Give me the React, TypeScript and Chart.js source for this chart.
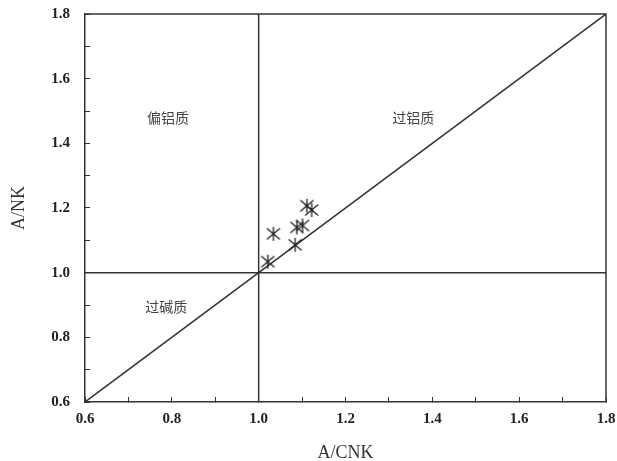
import React, { useEffect, useRef } from "react";
import { Chart, registerables } from "chart.js";

Chart.register(...registerables);

// Sample points (A/CNK, A/NK)
const sampleACNK = [1.021, 1.034, 1.084, 1.088, 1.101, 1.111, 1.122];
const sampleANK = [1.034, 1.120, 1.086, 1.140, 1.146, 1.207, 1.194];

// Reference lines
const diagonalX = [0.6, 1.8];
const diagonalY = [0.6, 1.8];
const verticalX = [1.0, 1.0];
const verticalY = [0.6, 1.8];
const horizontalX = [0.6, 1.8];
const horizontalY = [1.0, 1.0];

// Region labels
const regionNames = ["偏铝质", "过铝质", "过碱质"];
const regionX = [0.791, 1.356, 0.787];
const regionY = [1.479, 1.479, 0.894];

// Axis
const axisMin = 0.6;
const axisMax = 1.8;
const tickLabels = ["0.6", "0.8", "1.0", "1.2", "1.4", "1.6", "1.8"];

function makeMarker(): HTMLCanvasElement {
  const c = document.createElement("canvas");
  c.width = 16;
  c.height = 16;
  const ctx = c.getContext("2d")!;
  ctx.strokeStyle = "#222";
  ctx.lineWidth = 1.3;
  ctx.beginPath();
  ctx.moveTo(1.5, 2.5);
  ctx.lineTo(14.5, 13.5);
  ctx.moveTo(1.5, 13.5);
  ctx.lineTo(14.5, 2.5);
  ctx.moveTo(8, 1);
  ctx.lineTo(8, 15);
  ctx.stroke();
  return c;
}

const pairs = (xs: number[], ys: number[]) => xs.map((x, i) => ({ x, y: ys[i] }));

const tickCb = (v: any) => {
  const n = Math.round(Number(v) * 10);
  if (n % 2 !== 0) return "";
  const s = (n / 10).toFixed(1);
  return tickLabels.includes(s) ? s : "";
};

export default function App() {
  const ref = useRef<HTMLCanvasElement | null>(null);
  useEffect(() => {
    document.body.style.margin = "0";
    const marker = makeMarker();
    const framePlugin = {
      id: "frame",
      afterDraw(chart: any) {
        const { ctx, chartArea } = chart;
        ctx.save();
        ctx.strokeStyle = "#333";
        ctx.lineWidth = 1.5;
        ctx.beginPath();
        ctx.moveTo(chartArea.left, chartArea.top);
        ctx.lineTo(chartArea.right, chartArea.top);
        ctx.lineTo(chartArea.right, chartArea.bottom);
        ctx.stroke();
        ctx.restore();
      },
    };
    const labelPlugin = {
      id: "regionLabels",
      afterDatasetsDraw(chart: any) {
        const { ctx } = chart;
        const xs = chart.scales.x;
        const ys = chart.scales.y;
        ctx.save();
        ctx.fillStyle = "#444";
        ctx.font = '14px "Noto Sans CJK SC"';
        ctx.textAlign = "center";
        ctx.textBaseline = "middle";
        regionNames.forEach((t, i) => {
          ctx.fillText(t, xs.getPixelForValue(regionX[i]), ys.getPixelForValue(regionY[i]));
        });
        ctx.restore();
      },
    };
    const lineStyle = {
      showLine: true,
      pointRadius: 0,
      borderColor: "#333",
      borderWidth: 1.5,
      fill: false,
    };
    const chart = new Chart(ref.current!, {
      type: "scatter",
      data: {
        datasets: [
          {
            data: pairs(sampleACNK, sampleANK),
            pointStyle: marker as any,
            pointRadius: 8,
          },
          { data: pairs(diagonalX, diagonalY), ...lineStyle },
          { data: pairs(verticalX, verticalY), ...lineStyle },
          { data: pairs(horizontalX, horizontalY), ...lineStyle },
        ] as any,
      },
      options: {
        animation: false,
        responsive: true,
        maintainAspectRatio: false,
        layout: { autoPadding: false, padding: { top: 14, right: 11, left: 0, bottom: 0 } },
        plugins: { legend: { display: false }, tooltip: { enabled: false } },
        scales: {
          x: {
            type: "linear",
            min: axisMin,
            max: axisMax,
            afterFit: (s: any) => {
              s.height = 59;
              s.paddingLeft = 0;
              s.paddingRight = 0;
            },
            border: { display: true, color: "#333", width: 1.5 },
            grid: { drawOnChartArea: false, drawTicks: true, tickLength: -5, color: "#333", lineWidth: 1 },
            ticks: {
              stepSize: 0.1,
              autoSkip: false,
              maxRotation: 0,
              padding: 13,
              color: "#222",
              font: { family: "Liberation Serif", size: 15, weight: "bold" },
              callback: tickCb,
            },
            title: {
              display: true,
              text: "A/CNK",
              color: "#333",
              font: { family: "Liberation Serif", size: 18 },
              padding: { top: 0, bottom: -3 },
            },
          },
          y: {
            type: "linear",
            min: axisMin,
            max: axisMax,
            afterFit: (s: any) => {
              s.width = 85;
              s.paddingTop = 0;
              s.paddingBottom = 0;
            },
            border: { display: true, color: "#333", width: 1.5 },
            grid: { drawOnChartArea: false, drawTicks: true, tickLength: -5, color: "#333", lineWidth: 1 },
            ticks: {
              stepSize: 0.1,
              autoSkip: false,
              padding: 20,
              color: "#222",
              font: { family: "Liberation Serif", size: 15, weight: "bold" },
              callback: tickCb,
            },
            title: {
              display: true,
              text: "A/NK",
              color: "#333",
              font: { family: "Liberation Serif", size: 18 },
              padding: { top: 8, bottom: 0 },
            },
          },
        },
      } as any,
      plugins: [framePlugin, labelPlugin],
    });
    return () => chart.destroy();
  }, []);
  return (
    <div style={{ position: "absolute", left: 0, top: 0, width: 617, height: 461 }}>
      <canvas ref={ref} />
    </div>
  );
}
